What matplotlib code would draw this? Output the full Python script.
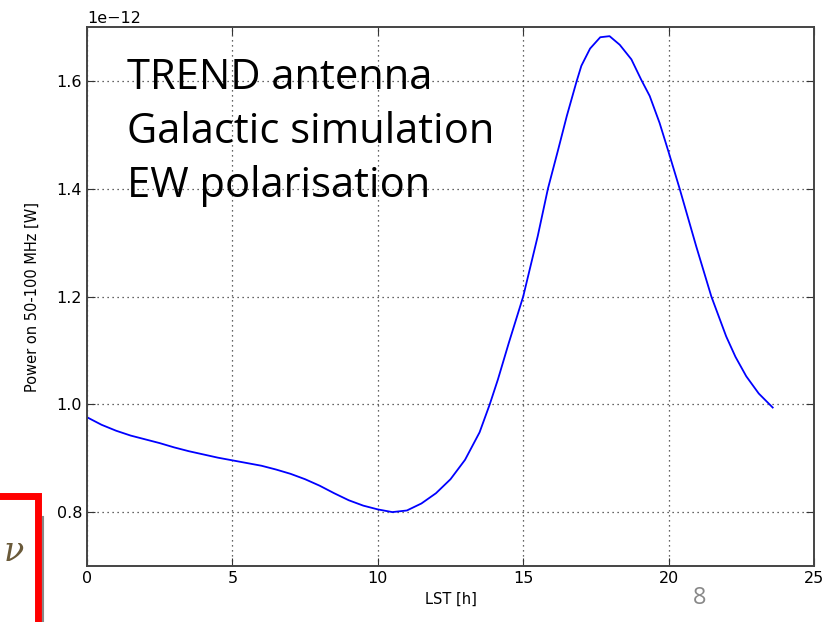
import matplotlib
matplotlib.use("Agg")
import matplotlib.pyplot as plt
from matplotlib.patches import Rectangle
from matplotlib.lines import Line2D

lst_h = [0.0, 0.5, 1.0, 1.5, 2.0, 2.5, 3.0, 3.5, 4.0, 4.5, 5.0, 5.5, 6.0, 6.5,
         7.0, 7.5, 8.0, 8.5, 9.0, 9.5, 10.0, 10.5, 11.0, 11.5, 12.0, 12.5,
         13.0, 13.5, 13.85, 14.13, 14.5, 15.0, 15.5, 15.85, 16.2, 16.5, 16.83,
         17.0, 17.3, 17.65, 17.97, 18.32, 18.72, 19.06, 19.35, 19.69, 20.0,
         20.38, 20.95, 21.47, 21.98, 22.3, 22.67, 23.1, 23.58]
power_e12 = [0.976, 0.962, 0.951, 0.942, 0.935, 0.928, 0.920, 0.913, 0.907,
             0.901, 0.896, 0.891, 0.886, 0.879, 0.871, 0.861, 0.849, 0.835,
             0.822, 0.812, 0.805, 0.800, 0.803, 0.816, 0.835, 0.861, 0.897,
             0.948, 1.000, 1.046, 1.113, 1.200, 1.312, 1.400, 1.472, 1.535,
             1.598, 1.628, 1.660, 1.681, 1.683, 1.667, 1.640, 1.602, 1.572,
             1.522, 1.468, 1.400, 1.293, 1.200, 1.126, 1.088, 1.052, 1.020,
             0.994]
power = [v * 1e-12 for v in power_e12]

x_ticks = [0, 5, 10, 15, 20, 25]
y_ticks = [0.8e-12, 1.0e-12, 1.2e-12, 1.4e-12, 1.6e-12]
overlay_lines = ["TREND antenna", "Galactic simulation", "EW polarisation"]

fig = plt.figure(figsize=(8.24, 6.22), dpi=100)
ax = fig.add_axes([87/824, 1-566/622, (814-87)/824, (566-27)/622])
ax.plot(lst_h, power, color="#0000ff", lw=1.3)
ax.set_xlim(0, 25)
ax.set_ylim(0.7e-12, 1.7e-12)
ax.set_xticks(x_ticks)
ax.set_yticks(y_ticks)
ax.grid(True, color="#333333", linestyle=(0, (1, 3)), linewidth=0.9)
ax.tick_params(direction="in", length=6, labelsize=11.5, top=True, right=True,
               color="#333333")
for s in ax.spines.values():
    s.set_linewidth(1.4)
    s.set_color("#444444")
ax.yaxis.get_offset_text().set_fontsize(11.5)
ax.set_xlabel("LST [h]", fontsize=10.5, labelpad=4)
ax.set_ylabel("Power on 50-100 MHz [W]", fontsize=10.5, labelpad=12)

for i, t in enumerate(overlay_lines):
    fig.text(127/824, 1-(78 + i*54)/622, t, fontsize=30, family="Open Sans",
             va="center", ha="left", color="black")

# slide decorations
fig.patches.append(Rectangle((-10/824, -10/622), 48/824, (622-496+10)/622,
                             transform=fig.transFigure, fill=False,
                             edgecolor="#ff0000", linewidth=5))
fig.lines.append(Line2D([43/824, 43/824], [0, 1-517/622],
                        transform=fig.transFigure, color="#888888", lw=1.5))
fig.text(4/824, 1-552/622, "ν", fontsize=24, family="DejaVu Serif",
         style="italic", color="#6a5a3a", va="center")
fig.text(700/824, 1-598/622, "8", fontsize=17, family="Open Sans",
         color="#888888", ha="center", va="center")

fig.savefig("out.png", dpi=100)
